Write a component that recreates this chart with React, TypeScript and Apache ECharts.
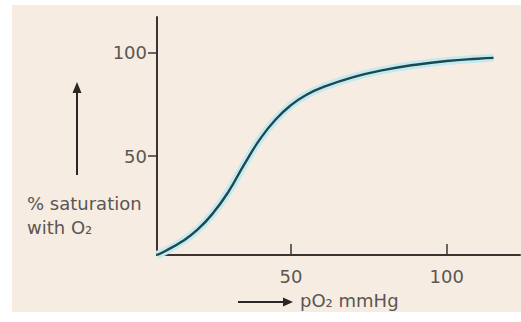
import React, { useEffect, useRef } from "react";
import * as echarts from "echarts";

// Oxygen–haemoglobin dissociation curve
const pO2 = [7, 10, 15, 20, 25, 30, 35, 40, 45, 50, 55, 60, 70, 80, 90, 100, 110, 115];
const saturation = [2.3, 4.5, 8.8, 14.5, 22.5, 33, 46, 58, 67.5, 74.5, 79.5, 83, 88, 91.5, 94, 95.8, 96.9, 97.3];
const xTicks = [50, 100];
const yTicks = [50, 100];

const FONT = "DejaVu Sans";
const TEXT = "#5a5653";
const AXIS = "#3b3430";

export default function App() {
  const ref = useRef<HTMLDivElement>(null);
  useEffect(() => {
    if (!ref.current) return;
    const chart = echarts.init(ref.current, undefined, { renderer: "svg" });
    const pts = pO2.map((x, i) => [x, saturation[i]]);
    chart.setOption({
      animation: false,
      backgroundColor: "#ffffff",
      grid: { left: 157, top: 17, right: 1, bottom: 67, containLabel: false },
      xAxis: {
        type: "value",
        min: 7,
        max: 123.5,
        axisLine: { show: true, lineStyle: { color: AXIS, width: 2 } },
        axisTick: { show: true, inside: true, length: 11, customValues: xTicks, lineStyle: { color: AXIS, width: 1.5 } },
        axisLabel: { customValues: xTicks, margin: 12, fontFamily: FONT, fontSize: 18, color: TEXT },
        splitLine: { show: false },
      },
      yAxis: {
        type: "value",
        min: 2.3,
        max: 117,
        axisLine: { show: true, lineStyle: { color: AXIS, width: 2 } },
        axisTick: { show: true, inside: false, length: 9, customValues: yTicks, lineStyle: { color: AXIS, width: 1.5 } },
        axisLabel: { customValues: yTicks, margin: 10, fontFamily: FONT, fontSize: 18, color: TEXT },
        splitLine: { show: false },
      },
      graphic: [
        { type: "rect", z: -10, shape: { x: 12, y: 5, width: 509, height: 307 }, style: { fill: "#f6ece2" }, silent: true },
        // vertical arrow
        { type: "line", shape: { x1: 77, y1: 175, x2: 77, y2: 92 }, style: { stroke: "#2b2724", lineWidth: 2 } },
        { type: "polygon", shape: { points: [[77, 82], [72.5, 93], [81.5, 93]] }, style: { fill: "#2b2724" } },
        {
          type: "text",
          left: 27,
          top: 191,
          style: { text: "% saturation\nwith O₂", font: `18px "${FONT}"`, fill: TEXT, lineHeight: 24 },
        },
        // horizontal arrow
        { type: "line", shape: { x1: 238, y1: 302, x2: 284, y2: 302 }, style: { stroke: "#2b2724", lineWidth: 2 } },
        { type: "polygon", shape: { points: [[293, 302], [283, 297.5], [283, 306.5]] }, style: { fill: "#2b2724" } },
        {
          type: "text",
          left: 300,
          top: 291,
          style: { text: "pO₂ mmHg", font: `18px "${FONT}"`, fill: TEXT },
        },
      ],
      series: [
        {
          type: "line",
          data: pts,
          smooth: 0.5,
          showSymbol: false,
          lineStyle: { color: "#c4eaf0", width: 8 },
          z: 2,
          silent: true,
        },
        {
          type: "line",
          data: pts,
          smooth: 0.5,
          showSymbol: false,
          lineStyle: { color: "#1e4750", width: 2.4 },
          z: 3,
        },
      ],
    });
    return () => chart.dispose();
  }, []);
  return <div ref={ref} style={{ position: "fixed", left: 0, top: 0, width: 521, height: 322 }} />;
}
